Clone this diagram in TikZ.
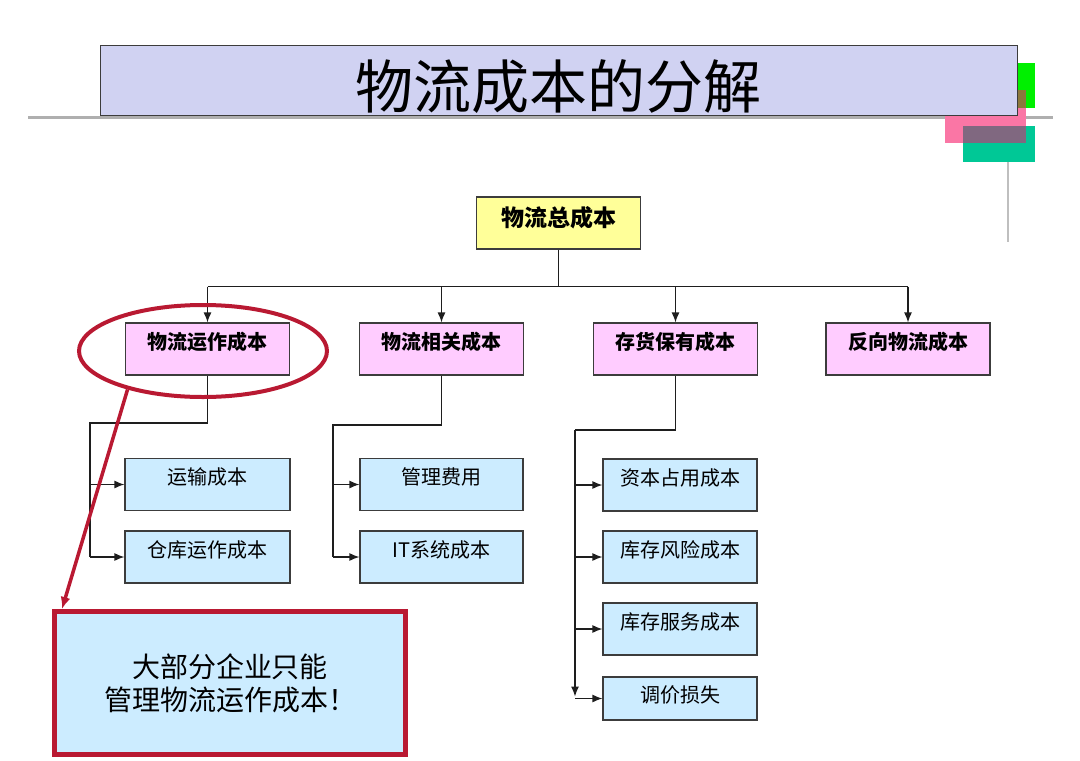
\documentclass[tikz,border=0pt]{standalone}
\usepackage{fontspec}
\newfontfamily\cjk{Noto Sans CJK SC}
\usepackage{tikz}
\usetikzlibrary{positioning, shapes.geometric, arrows.meta}
\definecolor{titlefill}{RGB}{208,210,242}
\definecolor{totalfill}{RGB}{255,255,153}
\definecolor{groupfill}{RGB}{255,204,255}
\definecolor{itemfill}{RGB}{204,236,255}
\definecolor{markred}{RGB}{185,25,50}
\definecolor{boxline}{RGB}{60,60,60}
\definecolor{linkline}{RGB}{30,30,30}
\definecolor{rulegray}{RGB}{175,175,175}
\definecolor{decopink}{RGB}{250,118,165}
\definecolor{decogreen}{RGB}{0,240,0}
\definecolor{decoteal}{RGB}{0,200,150}
\definecolor{pinkgreen}{RGB}{140,120,60}
\definecolor{pinkteal}{RGB}{128,104,128}
\tikzset{
  costbox/.style={draw=boxline, line width=1.2pt, minimum height=52, inner sep=0pt,
    text height=16pt, text depth=16pt},
  groupbox/.style={costbox, fill=groupfill, minimum width=164, font=\cjk\bfseries\fontsize{20}{22}\selectfont},
  itembox/.style={costbox, fill=itemfill, font=\cjk\fontsize{20}{22}\selectfont},
  linkarrow/.style={-{Latex[length=10pt,width=8pt]}}
}
\newcommand\groupcost[3]{\node[groupbox] (#1) at (#2,349) {#3};}
\newcommand\itemcost[5]{\node[itembox, minimum width=#4] (#1) at (#2,#3) {#5};}

\begin{document}
\begin{tikzpicture}[x=1pt, y=-1pt, line width=1.2pt, draw=linkline]
\useasboundingbox (0,0) rectangle (1080,761);

% corner decoration
\draw[rulegray, line width=3pt] (28,117) -- (1053,117);
\draw[rulegray!80, line width=2pt] (1008,117) -- (1008,242);
\fill[decopink] (945,90) rectangle (1026,143);
\fill[decogreen] (1017,63) rectangle (1035,108);
\fill[pinkgreen] (1017,90) rectangle (1026,108);
\fill[decoteal] (963,126) rectangle (1035,162);
\fill[pinkteal] (963,126) rectangle (1026,143);

\node[draw=boxline, fill=titlefill, line width=1pt, minimum width=917, minimum height=70, inner sep=0pt,
  text height=56pt, text depth=0pt, font=\cjk\fontsize{58}{60}\selectfont] (title) at (558.5,80) {物流成本的分解};

\node[costbox, fill=totalfill, minimum width=164, font=\cjk\bfseries\fontsize{23}{25}\selectfont,
  text height=18pt, text depth=12pt] (total) at (558.5,223) {物流总成本};

\groupcost{opcost}{207.5}{物流运作成本}
\groupcost{relcost}{441.5}{物流相关成本}
\groupcost{invcost}{675.5}{存货保有成本}
\groupcost{revcost}{908}{反向物流成本}

\itemcost{transport}{207.5}{484.5}{165}{运输成本}
\itemcost{warehouse}{207.5}{557}{165}{仓库运作成本}
\itemcost{admin}{441.5}{484.5}{163}{管理费用}
\itemcost{itsys}{441.5}{557}{163}{IT系统成本}
\itemcost{capital}{680}{485}{154}{资本占用成本}
\itemcost{risk}{680}{557}{154}{库存风险成本}
\itemcost{service}{680}{629}{154}{库存服务成本}
\node[itembox, minimum width=154, minimum height=43, text depth=8pt] (loss) at (680,698.5) {调价损失};

% top level
\draw (total.south) -- ++(0,37) coordinate (bus);
\draw (bus -| opcost) -- (bus -| revcost);
\foreach \g in {opcost, relcost, invcost, revcost}
  \draw[linkarrow] (bus -| \g.north) -- (\g.north);

% children
\coordinate (oprail) at (90,423);
\draw (opcost.south) |- (oprail) -- (oprail |- warehouse.west);
\foreach \c in {transport, warehouse}
  \draw[linkarrow] (oprail |- \c.west) -- (\c.west);

\coordinate (relrail) at (333,425);
\draw (relcost.south) |- (relrail) -- (relrail |- itsys.west);
\foreach \c in {admin, itsys}
  \draw[linkarrow] (relrail |- \c.west) -- (\c.west);

\coordinate (invrail) at (575,430);
\draw (invcost.south) |- (invrail);
\draw[linkarrow] (invrail) -- ([yshift=2pt]invrail |- loss.west);
\foreach \c in {capital, risk, service, loss}
  \draw[linkarrow] (invrail |- \c.west) -- (\c.west);

% highlight
\node[draw=markred, line width=4pt, ellipse, minimum width=248, minimum height=92, inner sep=0pt] (ring) at (203,351) {};
\node[draw=markred, line width=5pt, fill=itemfill, minimum width=351, minimum height=143, align=center,
  font=\cjk\fontsize{28}{33}\selectfont] (note) at (230,683) {大部分企业只能\\管理物流运作成本！};
\draw[markred, line width=3.5pt, -{Latex[length=12pt,width=10pt]}] (ring.207) -- ([xshift=10pt]note.north west);

\end{tikzpicture}
\end{document}
